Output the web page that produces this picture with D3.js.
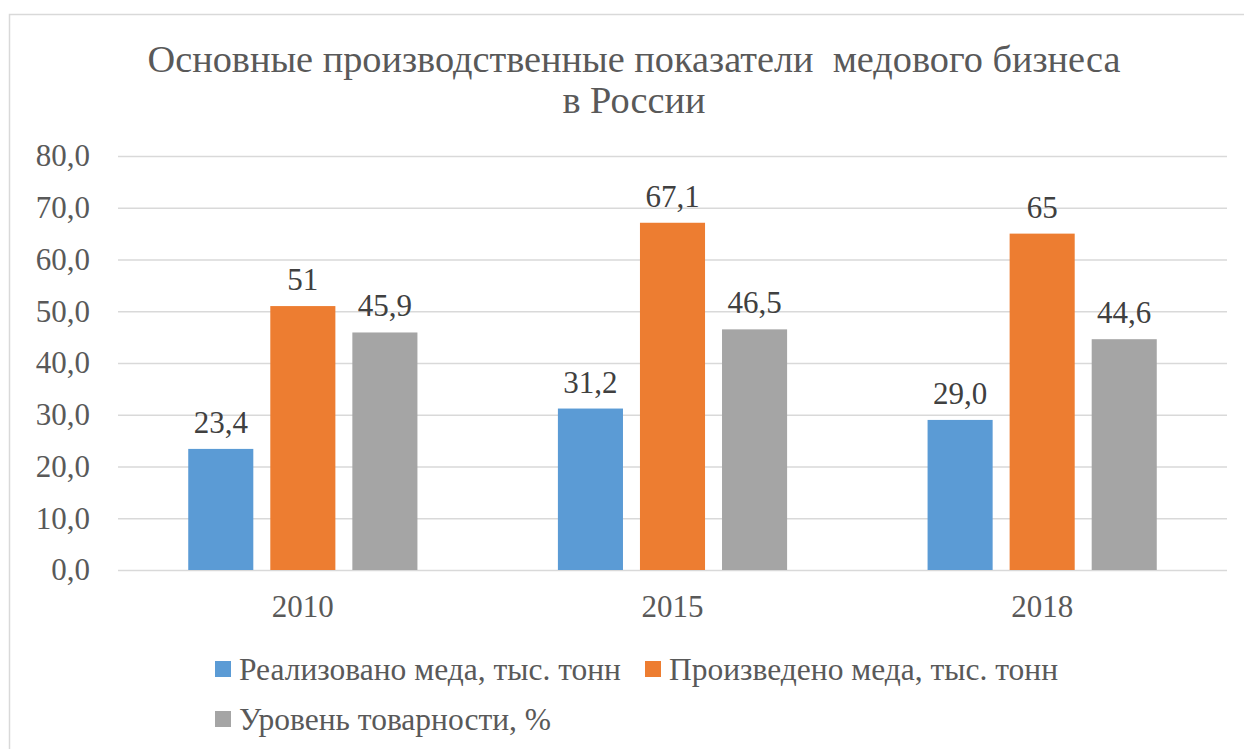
<!DOCTYPE html>
<html><head><meta charset="utf-8">
<script src="https://cdn.jsdelivr.net/npm/d3@7"></script>
</head><body style="margin:0">
<svg id="c" width="1244" height="749"></svg>
<script>
const categories = ["2010", "2015", "2018"];
const seriesNames = ["Реализовано меда, тыс. тонн", "Произведено меда, тыс. тонн", "Уровень товарности, %"];
const sold = [23.4, 31.2, 29.0];
const produced = [51, 67.1, 65];
const marketability = [45.9, 46.5, 44.6];
const labelsSold = ["23,4", "31,2", "29,0"];
const labelsProduced = ["51", "67,1", "65"];
const labelsMarket = ["45,9", "46,5", "44,6"];
const yTicks = [0, 10, 20, 30, 40, 50, 60, 70, 80];
const colors = ["#5b9bd5", "#ed7d31", "#a5a5a5"];

const series = [
  {name: seriesNames[0], values: sold, labels: labelsSold},
  {name: seriesNames[1], values: produced, labels: labelsProduced},
  {name: seriesNames[2], values: marketability, labels: labelsMarket}
];

const svg = d3.select("#c");
const FF = "Liberation Serif";
const m = {left: 118, right: 1227, top: 156, bottom: 570};

svg.append("rect").attr("x", 9.5).attr("y", 14.5).attr("width", 1300).attr("height", 800)
  .attr("fill", "none").attr("stroke", "#d9d9d9").attr("stroke-width", 1.5);

svg.append("text").attr("x", 634).attr("y", 72).attr("text-anchor", "middle").attr("fill", "#595959")
  .attr("font-family", FF).attr("font-size", 38.3)
  .text("Основные производственные показатели\u00a0 медового бизнеса");
svg.append("text").attr("x", 634).attr("y", 113).attr("text-anchor", "middle").attr("fill", "#595959")
  .attr("font-family", FF).attr("font-size", 38.3).text("в России");

const y = d3.scaleLinear().domain([0, 80]).range([m.bottom, m.top]);
const x0 = d3.scaleBand().domain(categories).range([m.left, m.right]).paddingInner(0.38).paddingOuter(0.19);
const x1 = d3.scaleBand().domain(d3.range(3)).range([0, x0.bandwidth()]).paddingInner(0.207);

const yAxis = d3.axisLeft(y).tickValues(yTicks).tickSize(-(m.right - m.left)).tickPadding(28)
  .tickFormat(d => d3.format(".1f")(d).replace(".", ","));
const gy = svg.append("g").attr("transform", `translate(${m.left},0)`).call(yAxis);
gy.attr("font-family", FF).attr("font-size", 31);
gy.select(".domain").remove();
gy.selectAll(".tick line").attr("stroke", "#d9d9d9").attr("stroke-width", 1.5);
gy.selectAll(".tick text").attr("fill", "#595959");

const xAxis = d3.axisBottom(x0).tickSize(0).tickPadding(25);
const gx = svg.append("g").attr("transform", `translate(0,${m.bottom})`).call(xAxis);
gx.attr("font-family", FF).attr("font-size", 31);
gx.select(".domain").remove();
gx.selectAll(".tick text").attr("fill", "#595959");

series.forEach((s, i) => {
  const g = svg.append("g");
  g.selectAll("rect").data(categories).join("rect")
    .attr("x", (c) => x0(c) + x1(i))
    .attr("y", (c, j) => y(s.values[j]))
    .attr("width", x1.bandwidth())
    .attr("height", (c, j) => y(0) - y(s.values[j]))
    .attr("fill", colors[i]);
  g.selectAll("text").data(categories).join("text")
    .attr("x", (c) => x0(c) + x1(i) + x1.bandwidth() / 2)
    .attr("y", (c, j) => y(s.values[j]) - 16)
    .attr("text-anchor", "middle").attr("fill", "#404040")
    .attr("font-family", FF).attr("font-size", 31)
    .text((c, j) => s.labels[j]);
});

const legendPos = [[215, 680], [645, 680], [215, 730]];
series.forEach((s, i) => {
  const [lx, ly] = legendPos[i];
  svg.append("rect").attr("x", lx).attr("y", ly - 19).attr("width", 16).attr("height", 16).attr("fill", colors[i]);
  svg.append("text").attr("x", lx + 24).attr("y", ly).attr("fill", "#595959")
    .attr("font-family", FF).attr("font-size", 31.5).text(s.name);
});
</script>
</body></html>
